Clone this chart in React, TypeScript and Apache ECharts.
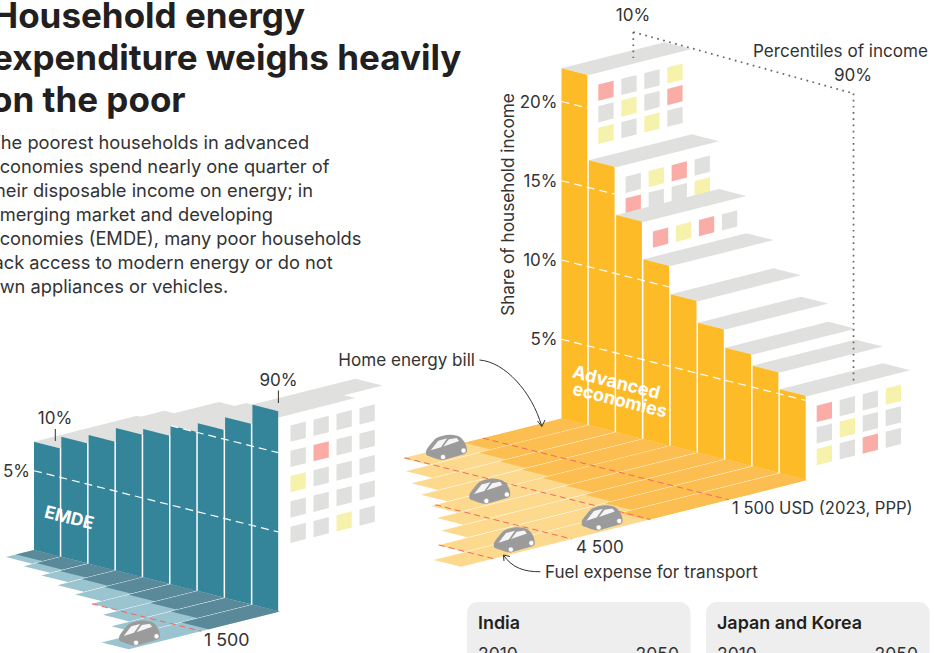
import React, { useEffect, useRef } from "react";
import * as echarts from "echarts";

// ---- data ----
const advShare = [22.1, 16.72, 13.7, 11.34, 9.56, 8.2, 7.05, 6.35, 5.29];
const advEnergy = [1860, 2095, 2226, 2325, 2456, 2522, 2687, 2819, 3050];
const advFuel = [1176, 1402, 1680, 1929, 2127, 2470, 2747, 3194, 3570];
const advCells = [["rggy", "gygr", "ygyg"], ["gyrg", "rggy"], ["ryrg"], [], [], [], [], [], ["rggy", "gygg", "ygrg"]];
const advShareTicks = [5, 10, 15, 20];
const advUsdTicks = [1500, 3000, 4500, 6000];
const advCars = [[0, 2200], [4, 3460], [8, 3400], [8, 5080]];

const emdeShare = [6.83, 7.58, 8.12, 8.99, 9.36, 10.02, 10.59, 11.4, 12.62];
const emdeEnergy = [346, 474, 551, 654, 737, 801, 910, 1038, 1359];
const emdeFuel = [192, 244, 353, 461, 564, 699, 904, 1135, 1526];
const emdeCells = [[], [], [], [], [], [], [], [], ["gggg", "grgg", "yggg", "gggg", "ggyg"]];
const emdeShareTicks = [5, 10];
const emdeAxisLabels = [5];
const emdeUsdTicks = [1500];
const emdeCars = [[8, 2160]];

const titleLines = ["Household energy", "expenditure weighs heavily", "on the poor"];
const bodyLines = [
  "The poorest households in advanced",
  "economies spend nearly one quarter of",
  "their disposable income on energy; in",
  "emerging market and developing",
  "economies (EMDE), many poor households",
  "lack access to modern energy or do not",
  "own appliances or vehicles.",
];

// ---- geometry of the oblique projection ----
const FONT = "Inter";
const PITCH = 27.3;
const RISE = 6.84;
const PX_PER_PCT = 15.85;
const SHARE_MAX = 27;
const USD_MAX = 7000;
const USD_DX = 0.0523;
const USD_DY = 0.0131;
const DEPTH = [103, -26];
const cellColor: any = { g: "#e0e0de", y: "#f6f2ac", r: "#f9ada6" };

const poly = (points: number[][], fill: string) => ({
  type: "polygon",
  shape: { points },
  style: { fill, stroke: "none" },
});
const seg = (a: number[], b: number[], stroke: string, lineWidth: number, dash?: number[]) => ({
  type: "line",
  shape: { x1: a[0], y1: a[1], x2: b[0], y2: b[1] },
  style: { stroke, lineWidth, lineDash: dash, fill: "none" },
});

function wallSeries(axis: number, share: number[], cells: string[][], ticks: number[], color: string, cfg: any) {
  const data = share.map((v, i) => [i, v]);
  const wall = (api: any, slot: number, v: number) => {
    const p = api.coord([slot, v]);
    return [p[0], p[1] + slot * RISE];
  };
  const base = { type: "custom", xAxisIndex: axis, yAxisIndex: axis, silent: true, clip: false, encode: { x: 0, y: 1 } };
  return [
    {
      ...base,
      z: 3,
      data,
      renderItem: (_: any, api: any) => {
        const i = api.value(0);
        const v = api.value(1);
        const a = wall(api, i, v);
        const b = wall(api, i + 1, v);
        const children: any[] = [
          poly([a, b, [b[0] + DEPTH[0], b[1] + DEPTH[1]], [a[0] + DEPTH[0], a[1] + DEPTH[1]]], cellColor.g),
        ];
        (cells[i] || []).forEach((row, r) => {
          row.split("").forEach((c, k) => {
            const x = b[0] + cfg.cellX + k * 23;
            const y = b[1] + cfg.cellY + r * cfg.rowStep - k * 5.75;
            children.push(poly([[x, y], [x + 15.3, y - 3.85], [x + 15.3, y + 12.45], [x, y + 16.3]], cellColor[c]));
          });
        });
        return { type: "group", children };
      },
    },
    {
      ...base,
      z: 4,
      data,
      renderItem: (_: any, api: any) => {
        const i = api.value(0);
        const v = api.value(1);
        const w = 0.945;
        return poly([wall(api, i, v), wall(api, i + w, v), wall(api, i + w, 0), wall(api, i, 0)], color);
      },
    },
    {
      ...base,
      z: 5,
      data: ticks.map((t) => [0, t]),
      renderItem: (_: any, api: any) => {
        const t = api.value(1);
        let first = share.findIndex((v) => v >= t);
        let last = first;
        while (last + 1 < share.length && share[last + 1] >= t) last++;
        return seg(wall(api, first, t), wall(api, last + 0.945, t), "#ffffff", 1.2, [8, 5]);
      },
    },
  ];
}

const carBody =
  "M2 46 C6 38 20 20 30 11 C45 4 60 0 75 1 C90 2 100 6 106 13 C114 22 120 32 120 48 C120 52 116 56 108 58 L52 74 C44 75 34 72 6 62 C0 60 0 52 2 46 Z";

function floorSeries(axis: number, energy: number[], fuel: number[], ticks: number[], cars: number[][], cfg: any) {
  const total = energy.map((e, i) => e + fuel[i]);
  const floor = (api: any, slot: number, usd: number) => {
    const p = api.coord([usd, usd]);
    return [p[0] + slot * PITCH, p[1] + slot * RISE];
  };
  const base = { type: "custom", xAxisIndex: axis, yAxisIndex: axis, silent: true, clip: false, encode: { x: 1, y: 2 } };
  return [
    {
      ...base,
      z: 2,
      data: total.map((t, i) => [i, t, energy[i]]),
      renderItem: (_: any, api: any) => {
        const i = api.value(0);
        const t = api.value(1);
        const e = api.value(2);
        const strip = (u: number, c: string) =>
          poly([floor(api, i, 0), floor(api, i + 1, 0), floor(api, i + 1, u), floor(api, i, u)], c);
        const children: any[] = [strip(t, cfg.light), strip(e, cfg.dark)];
        if (i < total.length - 1) children.push(seg(floor(api, i + 1, 0), floor(api, i + 1, t), "#ffffff", 1));
        return { type: "group", children };
      },
    },
    {
      ...base,
      z: 3,
      data: ticks.map((t) => [0, t, t]),
      renderItem: (_: any, api: any) => {
        const t = api.value(1);
        const first = total.findIndex((v) => v >= t);
        return seg(floor(api, first, t), floor(api, total.length, t), "#f0695c", 1, [6, 4]);
      },
    },
    {
      ...base,
      z: 6,
      data: cars.map((c) => [c[0], c[1], c[1]]),
      renderItem: (_: any, api: any) => {
        const p = floor(api, api.value(0), api.value(1));
        const s = 41 / 120;
        return {
          type: "group",
          x: p[0] - 20.5,
          y: p[1] - 12.8,
          scaleX: s,
          scaleY: s,
          children: [
            {
              type: "path",
              shape: { pathData: carBody, x: 0, y: 0, width: 120, height: 75 },
              style: { fill: "#9b9b9b" },
            },
            poly([[14, 46], [36, 18], [62, 11], [44, 37]], "#f5f5f5"),
            poly([[51, 35], [67, 14], [90, 10], [97, 19]], "#f5f5f5"),
            { type: "circle", shape: { cx: 50, cy: 66, r: 7.5 }, style: { fill: "#fff", stroke: "#9b9b9b", lineWidth: 2 } },
            { type: "circle", shape: { cx: 110, cy: 47, r: 7.5 }, style: { fill: "#fff", stroke: "#9b9b9b", lineWidth: 2 } },
          ],
        };
      },
    },
  ];
}

const txt = (text: string, x: number, y: number, o: any = {}) => ({
  type: "text",
  x,
  y,
  rotation: o.rotation || 0,
  z: 20,
  silent: true,
  style: {
    text,
    x: 0,
    y: 0,
    fill: o.fill || "#333333",
    fontFamily: FONT,
    fontSize: o.size || 17.1,
    fontWeight: o.weight || 400,
    textAlign: o.align || "left",
    textVerticalAlign: "middle",
  },
});
const dots = (a: number[], b: number[]) => ({
  type: "line",
  z: 10,
  silent: true,
  shape: { x1: a[0], y1: a[1], x2: b[0], y2: b[1] },
  style: { stroke: "#666666", lineWidth: 1.7, lineDash: [1.7, 4.5], fill: "none" },
});
const thin = (a: number[], b: number[]) => ({
  type: "line",
  z: 10,
  silent: true,
  shape: { x1: a[0], y1: a[1], x2: b[0], y2: b[1] },
  style: { stroke: "#333333", lineWidth: 1, fill: "none" },
});
const curve = (s: number[], c1: number[], c2: number[], e: number[]) => ({
  type: "bezierCurve",
  z: 10,
  silent: true,
  shape: { x1: s[0], y1: s[1], cpx1: c1[0], cpy1: c1[1], cpx2: c2[0], cpy2: c2[1], x2: e[0], y2: e[1] },
  style: { stroke: "#333333", lineWidth: 1, fill: "none" },
});
const head = (pts: number[][]) => ({
  type: "polyline",
  z: 10,
  silent: true,
  shape: { points: pts },
  style: { stroke: "#333333", lineWidth: 1, fill: "none" },
});
const panel = (x: number, w: number) => ({
  type: "rect",
  z: 1,
  silent: true,
  shape: { x, y: 602, width: w, height: 80, r: 11 },
  style: { fill: "#eeeeee" },
});

const hiddenAxis = (gridIndex: number, min: number, max: number, inverse = false) => ({
  type: "value",
  gridIndex,
  show: false,
  min,
  max,
  inverse,
  splitLine: { show: false },
});
const shareAxis = (gridIndex: number, labels: number[]) => ({
  type: "value",
  gridIndex,
  min: 0,
  max: SHARE_MAX,
  interval: 5,
  axisLine: { show: false },
  axisTick: { show: false },
  splitLine: { show: false },
  axisLabel: {
    margin: 4,
    color: "#333333",
    fontFamily: FONT,
    fontSize: 17,
    formatter: (v: number) => (labels.includes(v) ? v + "%" : ""),
  },
});
const wallGrid = (left: number, baseY: number) => ({
  left,
  top: baseY - SHARE_MAX * PX_PER_PCT,
  width: 9 * PITCH,
  height: SHARE_MAX * PX_PER_PCT,
  outerBoundsMode: "none",
});
const floorGrid = (left: number, baseY: number) => ({
  left: left - USD_MAX * USD_DX,
  top: baseY,
  width: USD_MAX * USD_DX,
  height: USD_MAX * USD_DY,
  outerBoundsMode: "none",
});

export default function App() {
  const ref = useRef<HTMLDivElement>(null);
  useEffect(() => {
    document.body.style.margin = "0";
    const chart = echarts.init(ref.current!, null, { renderer: "svg" });
    chart.setOption({
      animation: false,
      backgroundColor: "#ffffff",
      grid: [wallGrid(561.5, 418.5), floorGrid(561.5, 418.5), wallGrid(34, 550), floorGrid(34, 550)],
      xAxis: [
        hiddenAxis(0, 0, 9),
        hiddenAxis(1, 0, USD_MAX, true),
        hiddenAxis(2, 0, 9),
        hiddenAxis(3, 0, USD_MAX, true),
      ],
      yAxis: [
        {
          ...shareAxis(0, advShareTicks),
          name: "Share of household income",
          nameLocation: "middle",
          nameRotate: 90,
          nameGap: 45,
          nameTextStyle: { color: "#333333", fontFamily: FONT, fontSize: 17.2 },
        },
        hiddenAxis(1, 0, USD_MAX, true),
        shareAxis(2, emdeAxisLabels),
        hiddenAxis(3, 0, USD_MAX, true),
      ],
      series: [
        ...floorSeries(1, advEnergy, advFuel, advUsdTicks, advCars, { light: "#fdd98e", dark: "#fcbe50" }),
        ...wallSeries(0, advShare, advCells, advShareTicks, "#fdbb27", { cellX: 9.5, cellY: 9.5, rowStep: 21.6 }),
        ...floorSeries(3, emdeEnergy, emdeFuel, emdeUsdTicks, emdeCars, { light: "#9ac4cf", dark: "#5a8999" }),
        ...wallSeries(2, emdeShare, emdeCells, emdeShareTicks, "#35859a", { cellX: 10.8, cellY: 13.9, rowStep: 25.3 }),
      ],
      graphic: {
        elements: [
          ...titleLines.map((t, i) => txt(t, i === 1 ? -8 : i === 0 ? -8 : -9, 15 + i * 41.8, { size: 35, weight: 700, fill: "#231f20" })),
          ...bodyLines.map((t, i) => txt(t, -11, 142 + i * 24, { size: 18.3 })),
          txt("10%", 633, 14, { align: "center" }),
          txt("Percentiles of income", 928, 50, { align: "right" }),
          txt("90%", 853, 74.5, { align: "center" }),
          txt("Home energy bill", 475, 359.5, { align: "right" }),
          txt("1 500 USD (2023, PPP)", 732, 507.5, { size: 16.6 }),
          txt("4 500", 576, 546.5),
          txt("Fuel expense for transport", 545, 571.5),
          txt("1 500", 204, 639.5, { size: 17.8 }),
          txt("10%", 55, 417.5, { align: "center" }),
          txt("90%", 278.5, 379.5, { align: "center" }),
          txt("Advanced", 573, 371, { rotation: -0.245, fill: "#ffffff", weight: 700, size: 18 }),
          txt("economies", 573, 388, { rotation: -0.245, fill: "#ffffff", weight: 700, size: 18 }),
          txt("EMDE", 45, 511, { rotation: -0.245, fill: "#ffffff", weight: 700, size: 17.5 }),
          dots([633.3, 32], [633.3, 58]),
          dots([633.3, 32], [853.5, 93.5]),
          dots([853.5, 93.5], [853.5, 381]),
          thin([55.3, 429], [55.3, 441]),
          thin([278.4, 390.5], [278.4, 403]),
          curve([479.5, 360], [505, 362], [532, 392], [541.6, 426]),
          head([[537.5, 421], [541.8, 426.5], [545, 420]]),
          curve([540.3, 571.7], [525, 572], [512, 568], [503.4, 555]),
          head([[504, 561], [503.4, 555], [510, 556.5]]),
          panel(467, 223.5),
          panel(706, 223.5),
          txt("India", 478, 622.5, { weight: 600, size: 17.9, fill: "#231f20" }),
          txt("Japan and Korea", 717, 622.5, { weight: 600, size: 17.9, fill: "#231f20" }),
          txt("2010", 478, 653, { size: 17.5 }),
          txt("2050", 679, 653, { align: "right", size: 17.5 }),
          txt("2010", 717, 653, { size: 17.5 }),
          txt("2050", 918, 653, { align: "right", size: 17.5 }),
        ],
      },
    });
    return () => chart.dispose();
  }, []);
  return <div ref={ref} style={{ position: "absolute", left: 0, top: 0, width: 935, height: 653, overflow: "hidden" }} />;
}
